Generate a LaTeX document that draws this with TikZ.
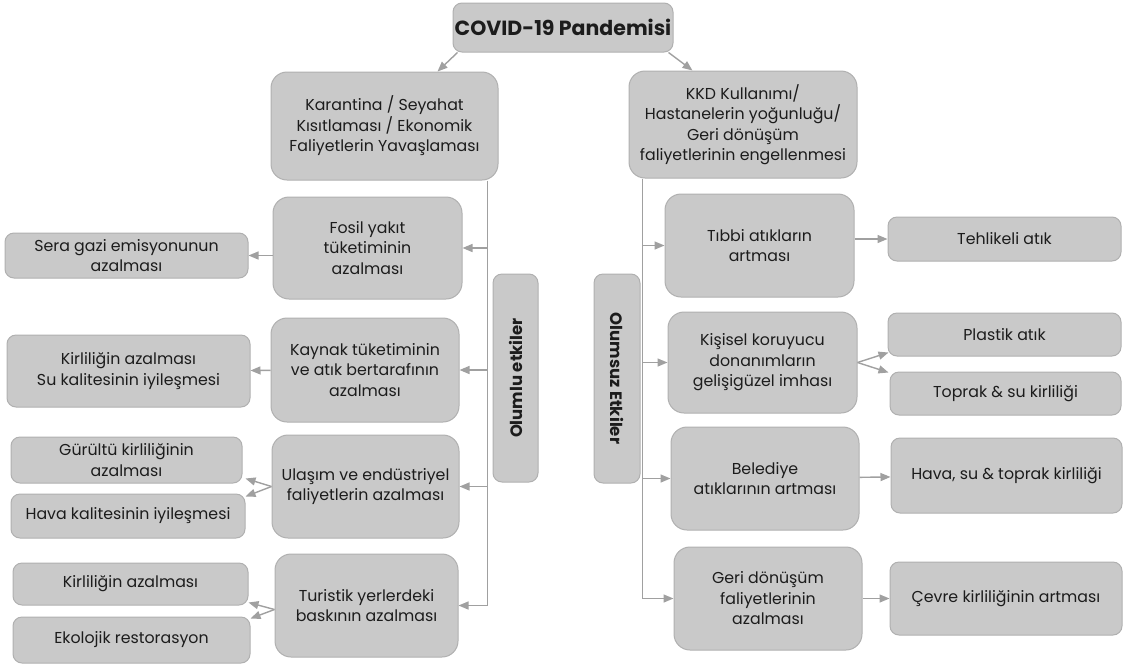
\documentclass[tikz,border=0pt]{standalone}
\usepackage{fontspec}
\setmainfont{Poppins}
\usetikzlibrary{arrows.meta}

\definecolor{boxfill}{RGB}{201,201,201}
\definecolor{boxline}{RGB}{176,176,176}
\definecolor{linkgray}{RGB}{160,160,160}
\definecolor{inkgray}{RGB}{28,28,28}

\tikzset{
  cause/.style={draw=boxline, line width=1pt, fill=boxfill, rounded corners=16pt,
    align=center, inner sep=0pt, text=inkgray, font=\fontsize{15.8}{20.5}\selectfont},
  effect/.style={cause, rounded corners=9pt},
  side/.style={effect, font=\bfseries\fontsize{16.5}{18}\selectfont},
  arr/.style={draw=linkgray, line width=1.4pt, -{Triangle[length=10pt,width=8pt]}},
}

\begin{document}
\begin{tikzpicture}[x=1pt, y=-1pt]
        \useasboundingbox (0,0) rectangle (1124,665);

        % top
        \node[effect, font=\bfseries\fontsize{20.5}{22}\selectfont, minimum width=220, minimum height=49] (covid) at (563,27.5) {COVID-19 Pandemisi};
        \node[cause, minimum width=227, minimum height=108] (karantina) at (384.5,126) {Karantina / Seyahat\\Kısıtlaması / Ekonomik\\Faliyetlerin Yavaşlaması};
        \node[cause, minimum width=228, minimum height=107] (kkd) at (743,124.5) {KKD Kullanımı/\\Hastanelerin yoğunluğu/\\Geri dönüşüm\\faliyetlerinin engellenmesi};

        % olumlu etkiler
        \node[cause, minimum width=189, minimum height=102] (fosil) at (367.5,248) {Fosil yakıt\\tüketiminin\\azalması};
        \node[cause, minimum width=188, minimum height=104] (kaynak) at (365,370) {Kaynak tüketiminin\\ve atık bertarafının\\azalması};
        \node[cause, minimum width=187, minimum height=103] (ulasim) at (365.5,486.5) {Ulaşım ve endüstriyel\\faliyetlerin azalması};
        \node[cause, minimum width=183, minimum height=103] (turistik) at (366.5,605.5) {Turistik yerlerdeki\\baskının azalması};

        \node[effect, minimum width=243, minimum height=45] (sera) at (126.5,255.5) {Sera gazi emisyonunun\\azalması};
        \node[effect, minimum width=243, minimum height=72] (kirsu) at (128.5,371) {Kirliliğin azalması\\Su kalitesinin iyileşmesi};
        \node[effect, minimum width=231, minimum height=46] (gurultu) at (126.5,460) {Gürültü kirliliğinin\\azalması};
        \node[effect, minimum width=234, minimum height=44] (hava) at (128,516) {Hava kalitesinin iyileşmesi};
        \node[effect, minimum width=235, minimum height=42] (kirlilik) at (130.5,584) {Kirliliğin azalması};
        \node[effect, minimum width=237, minimum height=46] (ekolojik) at (131.5,640) {Ekolojik restorasyon};

        \node[side, rotate=90, minimum width=208, minimum height=45] (olumlu) at (515.5,378) {Olumlu etkiler};
        \node[side, rotate=-90, minimum width=209, minimum height=46] (olumsuz) at (617,378.5) {Olumsuz Etkiler};

        % olumsuz etkiler
        \node[cause, minimum width=189, minimum height=103] (tibbi) at (759.5,245.5) {Tıbbi atıkların\\artması};
        \node[cause, minimum width=189, minimum height=101] (kisisel) at (762.5,362.5) {Kişisel koruyucu\\donanımların\\gelişigüzel imhası};
        \node[cause, minimum width=188, minimum height=103] (belediye) at (765,478.5) {Belediye\\atıklarının artması};
        \node[cause, minimum width=188, minimum height=103] (geri) at (768,598.5) {Geri dönüşüm\\faliyetlerinin\\azalması};

        \node[effect, minimum width=233, minimum height=44] (tehlikeli) at (1004.5,239) {Tehlikeli atık};
        \node[effect, minimum width=233, minimum height=43] (plastik) at (1004.5,334.5) {Plastik atık};
        \node[effect, minimum width=231, minimum height=43] (toprak) at (1005.5,393.5) {Toprak \& su kirliliği};
        \node[effect, minimum width=231, minimum height=75] (havasu) at (1006.5,475.5) {Hava, su \& toprak kirliliği};
        \node[effect, minimum width=232, minimum height=73] (cevre) at (1006,598.5) {Çevre kirliliğinin artması};

        \draw[arr] ([xshift=5pt]covid.south west) -- ([xshift=167pt]karantina.north west);
        \draw[arr] ([xshift=-5pt]covid.south east) -- ([xshift=64pt]kkd.north west);

        \coordinate (ltrunk) at ([xshift=-11pt]karantina.south east);
        \draw[arr] (ltrunk) |- (turistik);
        \draw[arr] (ltrunk |- fosil) -- (fosil);
        \draw[arr] (ltrunk |- kaynak) -- (kaynak);
        \draw[arr] (ltrunk |- ulasim) -- (ulasim);

        \draw[arr] (fosil.west |- sera) -- (sera);
        \draw[arr] (kaynak) -- (kirsu);
        \draw[arr] (ulasim.west) -- ([shift={(3pt,5pt)}]gurultu.south east);
        \draw[arr] (ulasim.west) -- ([shift={(0pt,-3pt)}]hava.north east);
        \draw[arr] ([yshift=-4pt]turistik.west) -- ([yshift=3pt]kirlilik.south east);
        \draw[arr] ([yshift=-4pt]turistik.west) -- ([yshift=-2pt]ekolojik.north east);

        \coordinate (rtrunk) at ([xshift=14pt]kkd.south west);
        \draw[arr] (rtrunk) |- (geri);
        \draw[arr] (rtrunk |- tibbi) -- (tibbi);
        \draw[arr] (rtrunk |- kisisel) -- (kisisel);
        \draw[arr] (rtrunk |- belediye) -- (belediye);

        \draw[arr] (tibbi.east |- tehlikeli) -- (tehlikeli);
        \draw[arr] (kisisel.east) -- ([shift={(1pt,4pt)}]plastik.south west);
        \draw[arr] (kisisel.east) -- ([shift={(-1pt,-1pt)}]toprak.north west);
        \draw[arr] (belediye) -- (havasu);
        \draw[arr] (geri) -- (cevre);
\end{tikzpicture}
\end{document}
